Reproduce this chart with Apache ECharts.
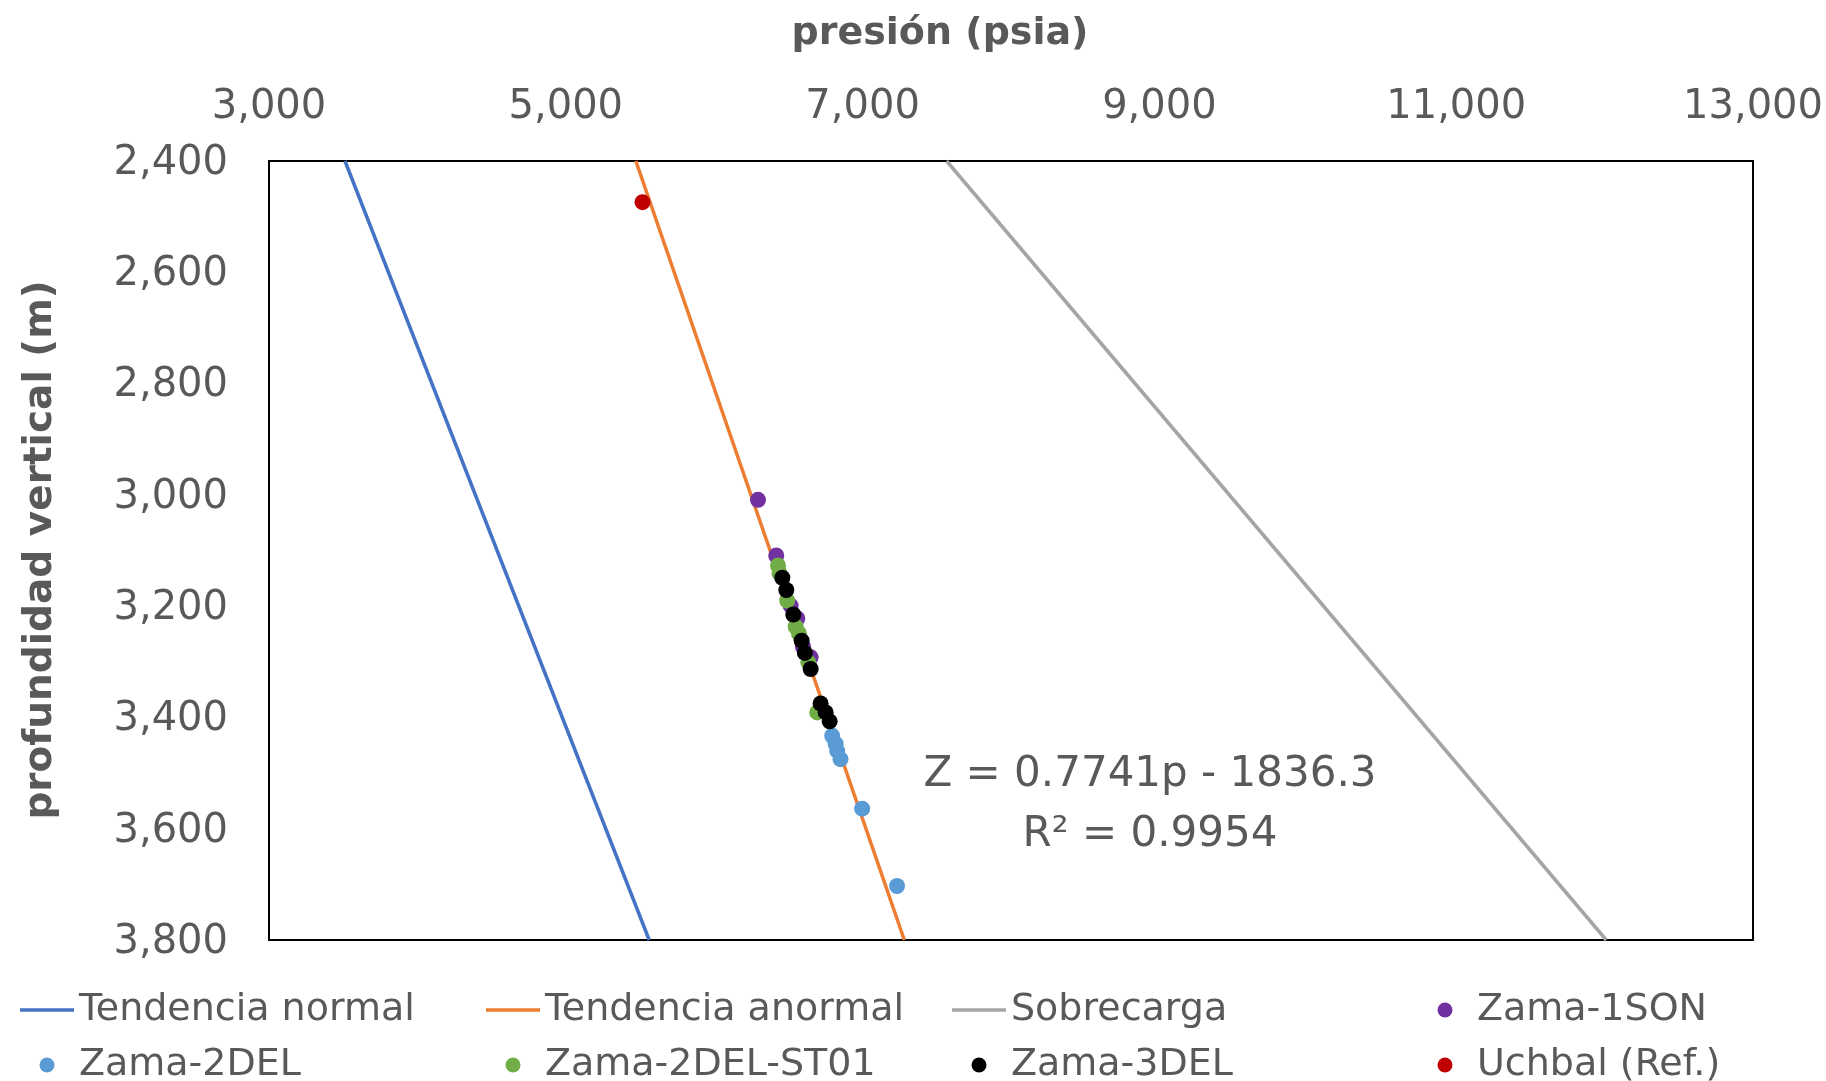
<!DOCTYPE html>
<html><head><meta charset="utf-8">
<script src="https://cdn.jsdelivr.net/npm/echarts@6/dist/echarts.min.js"></script>
<style>html,body{margin:0;padding:0;background:#fff}#c{width:1826px;height:1081px}</style>
</head><body><div id="c"></div>
<script>
const FONT = '"DejaVu Sans", sans-serif';
const TEXT = '#595959';

// Axis ranges / ticks
const xMin = 3000, xMax = 13000, xStep = 2000;
const yMin = 2400, yMax = 3800, yStep = 200;

// Trend lines (depth ends, pressure at those depths)
const depthEnds = [2400, 3800];
const normalPressure = [3512, 5562];
const abnormalPressure = [5472, 7281];
const overburdenPressure = [7566, 12011];

// Measured points (pressure psia, depth m)
const zama1sonP = [6295, 6418, 6515, 6560, 6598, 6650];
const zama1sonZ = [3009, 3109, 3199, 3222, 3273, 3292];
const zama2delP = [6795, 6818, 6829, 6851, 6997, 7232];
const zama2delZ = [3433, 3447, 3460, 3475, 3564, 3703];
const zama2delSt01P = [6430, 6440, 6492, 6549, 6571, 6634, 6694];
const zama2delSt01Z = [3127, 3141, 3190, 3237, 3249, 3301, 3391];
const zama3delP = [6459, 6486, 6533, 6589, 6611, 6650, 6717, 6751, 6778];
const zama3delZ = [3149, 3171, 3215, 3262, 3284, 3313, 3375, 3391, 3407];
const uchbalP = [5517];
const uchbalZ = [2474];

const seriesNames = ['Tendencia normal','Tendencia anormal','Sobrecarga','Zama-1SON','Zama-2DEL','Zama-2DEL-ST01','Zama-3DEL','Uchbal (Ref.)'];
const equationText = 'Z = 0.7741p - 1836.3';
const r2Text = 'R² = 0.9954';

const pair = (ps, zs) => ps.map((p, i) => [p, zs[i]]);
const fmt = v => v.toLocaleString('en-US');

function lineSeries(name, ps, color) {
  return { name, type: 'line', data: pair(ps, depthEnds), symbol: 'none', showSymbol: false,
    lineStyle: { color, width: 3.5 }, itemStyle: { color }, z: 2 };
}
function scatterSeries(name, ps, zs, color) {
  return { name, type: 'scatter', data: pair(ps, zs), symbol: 'circle', symbolSize: 16,
    itemStyle: { color, opacity: 1 }, z: 3 };
}
const ICON_W = 54, DOT = 15;
function legendItem(left, top, name, isLine) {
  return { left: isLine ? left : left + (ICON_W - DOT) / 2, top, orient: 'horizontal', padding: 0,
    itemWidth: ICON_W, itemHeight: isLine ? 3.5 : DOT, icon: isLine ? 'rect' : 'circle',
    selectedMode: false, data: [name],
    textStyle: { fontFamily: FONT, fontSize: 38, color: TEXT, lineHeight: 40 } };
}
const row1 = 990, row2 = 1045;
const cols = [20, 486, 952, 1418];

const chart = echarts.init(document.getElementById('c'), null, { renderer: 'canvas' });
chart.setOption({
  animation: false,
  backgroundColor: '#fff',
  grid: { left: 269, top: 161, right: 68, bottom: 141, show: true,
    borderColor: '#000', borderWidth: 2, backgroundColor: 'transparent' },
  xAxis: { type: 'value', position: 'top', min: xMin, max: xMax, interval: xStep,
    axisLine: { show: false }, axisTick: { show: false }, splitLine: { show: false },
    axisLabel: { margin: 33, fontFamily: FONT, fontSize: 40, color: TEXT, formatter: fmt } },
  yAxis: { type: 'value', inverse: true, min: yMin, max: yMax, interval: yStep,
    axisLine: { show: false }, axisTick: { show: false }, splitLine: { show: false },
    axisLabel: { margin: 41, fontFamily: FONT, fontSize: 40, color: TEXT,
      formatter: v => '{v|' + fmt(v) + '}',
      rich: { v: { fontFamily: FONT, fontSize: 40, color: TEXT, padding: [5, 0, 0, 0] } } } },
  legend: [
    legendItem(cols[0], row1, seriesNames[0], true),
    legendItem(cols[1], row1, seriesNames[1], true),
    legendItem(cols[2], row1, seriesNames[2], true),
    legendItem(cols[3], row1, seriesNames[3], false),
    legendItem(cols[0], row2, seriesNames[4], false),
    legendItem(cols[1], row2, seriesNames[5], false),
    legendItem(cols[2], row2, seriesNames[6], false),
    legendItem(cols[3], row2, seriesNames[7], false)
  ],
  graphic: [
    { type: 'text', x: 940, y: 34, style: { text: 'presión (psia)', x: 0, y: 0, align: 'center', verticalAlign: 'middle',
      font: 'bold 38px ' + FONT, fill: TEXT } },
    { type: 'text', x: 41, y: 550, rotation: Math.PI / 2, style: { text: 'profundidad vertical (m)', x: 0, y: 0,
      align: 'center', verticalAlign: 'middle', font: 'bold 39px ' + FONT, fill: TEXT } },
    { type: 'text', x: 1150, y: 775, z: 10, style: { text: equationText, x: 0, y: 0, align: 'center', verticalAlign: 'middle',
      font: '42px ' + FONT, fill: TEXT } },
    { type: 'text', x: 1150, y: 835, z: 10, style: { text: r2Text, x: 0, y: 0, align: 'center', verticalAlign: 'middle',
      font: '42px ' + FONT, fill: TEXT } }
  ],
  series: [
    lineSeries(seriesNames[0], normalPressure, '#4472C4'),
    lineSeries(seriesNames[1], abnormalPressure, '#ED7D31'),
    lineSeries(seriesNames[2], overburdenPressure, '#A5A5A5'),
    scatterSeries(seriesNames[3], zama1sonP, zama1sonZ, '#7030A0'),
    scatterSeries(seriesNames[4], zama2delP, zama2delZ, '#5B9BD5'),
    scatterSeries(seriesNames[5], zama2delSt01P, zama2delSt01Z, '#70AD47'),
    scatterSeries(seriesNames[6], zama3delP, zama3delZ, '#000000'),
    scatterSeries(seriesNames[7], uchbalP, uchbalZ, '#C00000')
  ]
});
</script>
</body></html>
